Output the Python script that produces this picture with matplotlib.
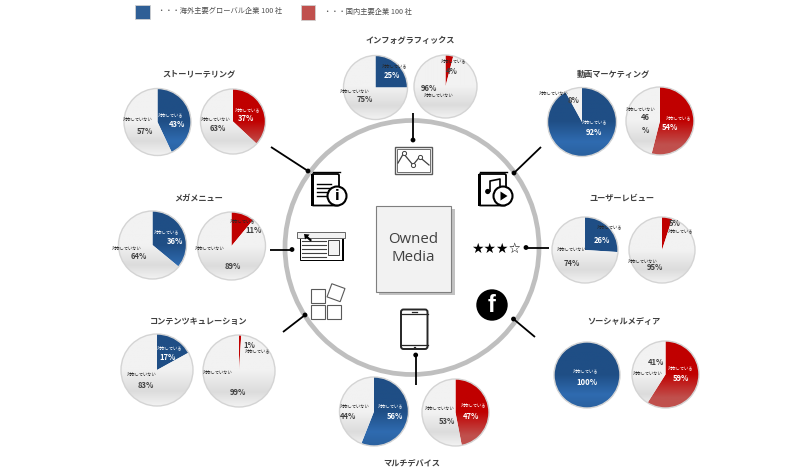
import numpy as np
import matplotlib
matplotlib.use("Agg")
import matplotlib.pyplot as plt
from matplotlib.colors import LinearSegmentedColormap
from matplotlib.patches import Circle, Rectangle, FancyBboxPatch, Polygon

plt.rcParams['font.family'] = ['Noto Sans CJK JP', 'DejaVu Sans']

topics = ["ストーリーテリング", "インフォグラフィックス", "動画マーケティング", "メガメニュー",
          "ユーザーレビュー", "コンテンツキュレーション", "ソーシャルメディア", "マルチデバイス"]
global_pct = [43, 25, 92, 36, 26, 17, 100, 56]
domestic_pct = [37, 4, 54, 11, 5, 1, 59, 47]
global_off_text = ["57%", "75%", "8%", "64%", "74%", "83%", "", "44%"]
domestic_off_text = ["63%", "96%", "46\n%", "89%", "95%", "99%", "41%", "53%"]
legend_text = ["・・・海外主要グローバル企業 100 社", "・・・国内主要企業 100 社"]
on_label = "対応している"
off_label = "対応していない"
center_text = "Owned\nMedia"

# layout in image pixels
title_pos = [(199, 74), (410, 40), (613, 74), (199, 198), (622, 198), (199, 321), (624, 321), (412, 463)]
global_pie = [(157.5, 122, 33.5), (375.5, 87.5, 32), (582, 122, 34.5), (152.5, 245, 34),
              (585, 250, 33), (157, 370, 36), (587, 375, 33), (374, 411.5, 34.5)]
domestic_pie = [(233, 121.5, 32.5), (445.5, 86.5, 31.5), (660, 121, 34), (231.5, 246, 34),
                (662, 250, 33), (239, 371, 36), (665.5, 374.5, 33.5), (455.5, 412.5, 33.5)]
# on label, on pct, off label, off pct, on label colour
global_txt = [((171, 114.5), (176.7, 124), (137.7, 119.7), (145, 131), 'white'),
              ((394.3, 65.3), (391.7, 76), (355, 91.7), (365, 99.7), '#262626'),
              ((595, 121.7), (594, 132), (553.3, 93.7), (573.3, 100.3), 'white'),
              ((166.7, 232), (175, 241.3), (126.7, 248), (139, 256.3), 'white'),
              ((609.3, 226.7), (602.3, 240), (572, 249), (572, 263.7), '#262626'),
              ((170, 347.3), (168, 357.3), (141.7, 374.7), (145.7, 385.3), 'white'),
              ((585.3, 370.3), (587, 382), None, None, 'white'),
              ((390.3, 405.7), (394.7, 416.7), (354.3, 406.7), (348, 416.7), 'white')]
domestic_txt = [((247.3, 109.3), (245.7, 118.3), (216, 119), (217.7, 128.3), 'white'),
                ((454, 61), (451.7, 71), (438.3, 95.7), (428.7, 88.3), '#262626'),
                ((678.3, 117.7), (670, 127), (640.7, 109.7), (645, 124), 'white'),
                ((242.7, 221), (253.3, 230), (210, 248.7), (232.7, 266.3), '#262626'),
                ((681, 231), (674.7, 223), (642.7, 261.3), (655.3, 267), '#262626'),
                ((258, 350.7), (249.3, 345.3), (217.3, 372.3), (237.7, 392.3), '#262626'),
                ((681, 367.3), (681, 378), (647.7, 373), (656, 362.3), 'white'),
                ((473.7, 404.7), (471, 416.7), (440, 408.3), (447.3, 421.7), 'white')]

blue_map = LinearSegmentedColormap.from_list('b', [(0, '#1f4e85'), (0.5, '#1f4e85'), (0.8, '#2f6bb0'), (1, '#2a619f')])
red_map = LinearSegmentedColormap.from_list('r', [(0, '#c00000'), (0.5, '#c00000'), (0.85, '#c0504d'), (1, '#c0504d')])
gray_map = LinearSegmentedColormap.from_list('g', [(0, '#f2f2f2'), (0.5, '#f2f2f2'), (0.8, '#dcdcdc'), (1, '#f2f2f2')])

fig = plt.figure(figsize=(8.1, 4.73), dpi=100)
ax = fig.add_axes([0, 0, 1, 1])
gradient = np.linspace(0, 1, 128).reshape(-1, 1)


def draw_pie(pos, pct, cmap):
    cx, cy, r = pos
    wedges, _ = ax.pie([pct, 100 - pct], center=(cx, cy), radius=r, startangle=-90, counterclock=True)
    for wedge, m in zip(wedges, [cmap, gray_map]):
        wedge.set_facecolor('none')
        im = ax.imshow(gradient, cmap=m, vmin=0, vmax=1, aspect='auto', zorder=2,
                       extent=(cx - r, cx + r, cy + r, cy - r))
        im.set_clip_path(wedge)
    ax.add_patch(Circle((cx, cy), r, fc='none', ec='#d4d4d4', lw=1.0, zorder=3))


def small(pos, s, color='#262626'):
    ax.text(pos[0], pos[1], s, fontsize=3.1, color=color, ha='center', va='center', zorder=6)


def pct_text(pos, s, color='#404040'):
    ax.text(pos[0], pos[1], s, fontsize=5.5, color=color, ha='center', va='center', zorder=6,
            weight='bold', linespacing=1.6)


for i in range(len(topics)):
    ax.text(title_pos[i][0], title_pos[i][1], topics[i], fontsize=5.9, weight='bold', color='#404040',
            ha='center', va='center')
    draw_pie(global_pie[i], global_pct[i], blue_map)
    draw_pie(domestic_pie[i], domestic_pct[i], red_map)

    on, on_p, off, off_p, col = global_txt[i]
    small(on, on_label, col)
    pct_text(on_p, str(global_pct[i]) + "%", 'white')
    if off is not None:
        small(off, off_label)
        pct_text(off_p, global_off_text[i])

    on, on_p, off, off_p, col = domestic_txt[i]
    small(on, on_label, col)
    pct_text(on_p, str(domestic_pct[i]) + "%", 'white' if col == 'white' else '#404040')
    small(off, off_label)
    pct_text(off_p, domestic_off_text[i])

# legend
ax.add_patch(Rectangle((135, 5), 14.5, 14, fc='#2f5f96', ec='#d0d0d0', lw=0.6))
ax.add_patch(Rectangle((301, 5.5), 14, 14.5, fc='#c0504d', ec='#d0d0d0', lw=0.6))
ax.text(158, 11, legend_text[0], fontsize=5.2, color='#505050', va='center')
ax.text(324, 11.5, legend_text[1], fontsize=5.2, color='#505050', va='center')

# ring
ax.add_patch(Circle((412, 247.5), 127, fc='white', ec='#bfbfbf', lw=3.4, zorder=1))

# centre box
ax.add_patch(Rectangle((378.5, 208.5), 76, 86.5, fc='#9a9a9a', ec='none', alpha=0.6, zorder=3))
ax.add_patch(Rectangle((375.5, 205.5), 75.5, 86, fc='#f2f2f2', ec='#7f7f7f', lw=0.8, zorder=4))
ax.text(413, 248.5, center_text, fontsize=10.8, color='#404040', ha='center', va='center', zorder=5,
        family=['Open Sans', 'DejaVu Sans'], linespacing=1.35)

# connectors
line_from = [(413, 113), (271, 147), (541, 147), (270, 249.5), (549, 247.5), (283, 332), (535, 337), (415.7, 385)]
line_to = [(413, 140), (308, 171), (514, 173), (292, 249.5), (526, 247.5), (305, 315), (513.5, 319), (415.7, 355)]
for a, b in zip(line_from, line_to):
    ax.plot([a[0], b[0]], [a[1], b[1]], color='black', lw=1.3, zorder=5, solid_capstyle='butt')
    ax.add_patch(Circle(b, 2.4, fc='black', ec='none', zorder=5))


def book(x):
    ax.add_patch(FancyBboxPatch((x + 1, 174), 27, 31.5, boxstyle='round,pad=0,rounding_size=1.5',
                                fc='white', ec='black', lw=1.3, zorder=5))
    ax.add_patch(Rectangle((x, 174), 3, 32, fc='black', ec='none', zorder=5))
    ax.plot([x + 2, x + 29], [172, 172], color='black', lw=1.0, zorder=5)


# info book
book(311)
for yy in [184, 188, 192, 196]:
    ax.plot([317, 331], [yy, yy], color='black', lw=1.0, zorder=5)
ax.add_patch(Circle((337, 196), 9.5, fc='white', ec='black', lw=1.5, zorder=6))
ax.text(337, 196, "i", fontsize=10, weight='bold', color='black', ha='center', va='center', zorder=7,
        family='DejaVu Sans')

# video book
book(478)
ax.add_patch(Circle((487.7, 191.5), 2.6, fc='black', ec='none', zorder=6))
ax.plot([490, 490, 500, 500], [191, 181, 179, 186], color='black', lw=1.2, zorder=6)
ax.add_patch(Circle((503, 196), 9.5, fc='white', ec='black', lw=1.5, zorder=6))
ax.add_patch(Polygon([(500.5, 191.5), (500.5, 200.5), (507.5, 196)], fc='black', ec='none', zorder=7))

# graph icon
ax.add_patch(Rectangle((395, 147), 36.5, 27, fc='white', ec='#595959', lw=1.0, zorder=5))
ax.add_patch(Rectangle((397, 149), 32.5, 23, fc='white', ec='#595959', lw=0.6, zorder=5))
gx = [398, 403.5, 413, 419.5, 429]
gy = [163, 153.5, 165, 157, 165]
ax.plot(gx, gy, color='#404040', lw=0.9, zorder=6)
ax.plot(gx[1:4], gy[1:4], 'o', ms=3, mfc='white', mec='#404040', mew=0.7, zorder=6)

# menu icon
ax.add_patch(Rectangle((301, 239), 43, 22, fc='black', ec='none', zorder=5))
ax.add_patch(Rectangle((299.5, 238), 42, 21.5, fc='white', ec='black', lw=0.7, zorder=5))
ax.add_patch(Rectangle((297, 232), 47.5, 6, fc='#f2f2f2', ec='#666666', lw=0.7, zorder=5))
ax.add_patch(Rectangle((327.5, 240), 11, 15, fc='#f2f2f2', ec='#404040', lw=0.7, zorder=6))
for yy in [241, 245, 249, 253, 257]:
    ax.plot([302, 326], [yy, yy], color='#404040', lw=0.8, zorder=6)
ax.add_patch(Polygon([(304, 234), (309.5, 234.5), (308, 236.5), (312, 240), (310.5, 241.5), (306.5, 238), (305, 239.5)],
                     fc='black', ec='none', zorder=7))

# stars
ax.text(496.5, 248.5, "★★★☆", fontsize=10, color='black', ha='center', va='center', zorder=5,
        family='DejaVu Sans')

# facebook
ax.add_patch(Circle((492, 305), 15.7, fc='black', ec='none', zorder=5))
ax.text(492, 305.5, "f", fontsize=17, weight='bold', color='white', ha='center', va='center', zorder=6,
        family='Liberation Sans')

# tiles
for x0, y0 in [(310.5, 289), (326.7, 305), (310.5, 305)]:
    ax.add_patch(Rectangle((x0, y0), 14, 14, fc='white', ec='#595959', lw=0.8, zorder=5))
t = np.radians(20)
sq = np.array([[-7, -7], [7, -7], [7, 7], [-7, 7]])
rot = np.array([[np.cos(t), -np.sin(t)], [np.sin(t), np.cos(t)]])
ax.add_patch(Polygon(sq @ rot.T + [336, 292.7], fc='white', ec='#595959', lw=0.8, zorder=5))

# phone
ax.add_patch(FancyBboxPatch((401, 309.5), 26.5, 39.5, boxstyle='round,pad=0,rounding_size=2.5',
                            fc='white', ec='#262626', lw=1.4, zorder=5))
ax.plot([401, 427.5], [314, 314], color='#262626', lw=0.9, zorder=6)
ax.plot([401, 427.5], [344.5, 344.5], color='#262626', lw=0.9, zorder=6)
ax.plot([412, 417], [312, 312], color='#262626', lw=0.9, zorder=6)
ax.plot([413.5, 415], [346.7, 346.7], color='#262626', lw=0.9, zorder=6)

ax.set_xlim(0, 810)
ax.set_ylim(473, 0)
ax.set_aspect('auto')
ax.axis('off')
fig.savefig("out.png", dpi=100)
